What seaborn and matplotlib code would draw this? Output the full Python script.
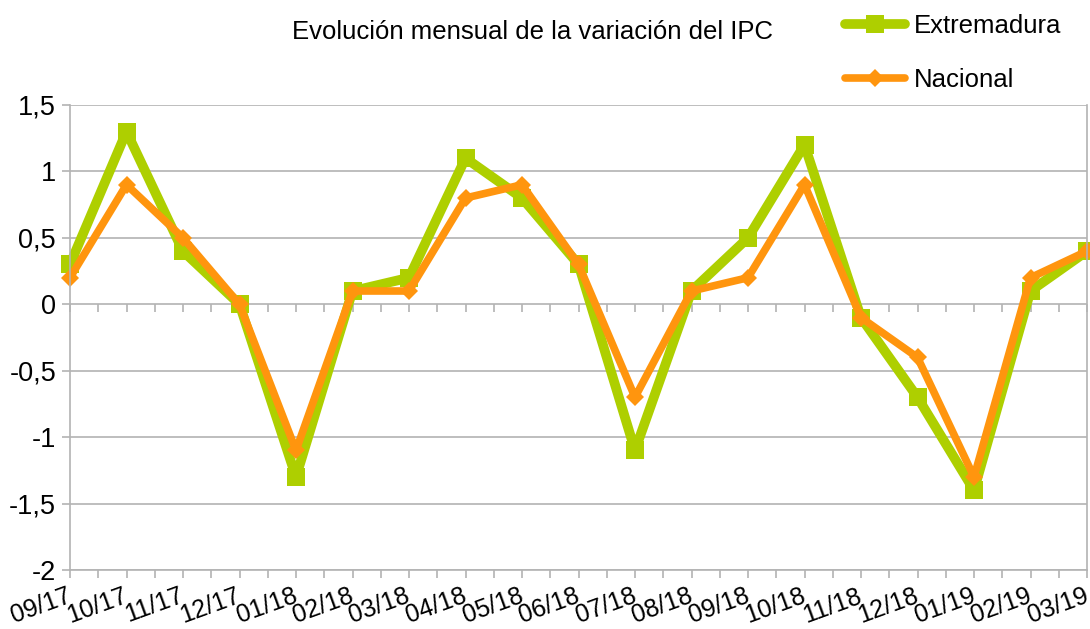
import numpy as np
import pandas as pd
import matplotlib
matplotlib.use("Agg")
import matplotlib.pyplot as plt
import matplotlib.transforms as mtransforms
import seaborn as sns
from matplotlib.ticker import FixedLocator, FuncFormatter

# Datos
meses = ["09/17", "10/17", "11/17", "12/17", "01/18", "02/18", "03/18", "04/18",
         "05/18", "06/18", "07/18", "08/18", "09/18", "10/18", "11/18", "12/18",
         "01/19", "02/19", "03/19"]
extremadura = [0.3, 1.3, 0.4, 0.0, -1.3, 0.1, 0.2, 1.1, 0.8, 0.3, -1.1, 0.1,
               0.5, 1.2, -0.1, -0.7, -1.4, 0.1, 0.4]
nacional = [0.2, 0.9, 0.5, 0.0, -1.1, 0.1, 0.1, 0.8, 0.9, 0.3, -0.7, 0.1,
            0.2, 0.9, -0.1, -0.4, -1.3, 0.2, 0.4]

verde = "#aecf00"
naranja = "#ff950e"
gris = "#b3b3b3"

sns.set_theme(style="white")
plt.rcParams["font.family"] = ["Liberation Sans", "DejaVu Sans"]
plt.rcParams["text.color"] = "black"
plt.rcParams["xtick.labelcolor"] = "black"
plt.rcParams["ytick.labelcolor"] = "black"

df = pd.DataFrame({"pos": np.arange(len(meses)),
                   "Extremadura": extremadura,
                   "Nacional": nacional})

fig = plt.figure(figsize=(10.9, 6.29), dpi=100)
W, H = 1090, 629
ax = fig.add_axes([70 / W, 1 - 570 / H, (1087 - 70) / W, (570 - 105) / H])

sns.lineplot(data=df, x="pos", y="Extremadura", ax=ax, color=verde,
             linewidth=7, marker="s", markersize=12.5, markeredgewidth=0,
             label="Extremadura", legend=False, clip_on=False)
sns.lineplot(data=df, x="pos", y="Nacional", ax=ax, color=naranja,
             linewidth=5.5, marker="D", markersize=9.5, markeredgewidth=0,
             label="Nacional", legend=False, clip_on=False)

ax.set_xlim(0, len(meses) - 1)
ax.set_ylim(-2, 1.5)
ax.set_xlabel("")
ax.set_ylabel("")

# eje y
ax.yaxis.set_major_locator(FixedLocator(np.arange(-2, 1.51, 0.5)))
ax.yaxis.set_major_formatter(FuncFormatter(lambda v, p: f"{v:g}".replace(".", ",")))
ax.grid(axis="y", color=gris, linewidth=1.2)
ax.grid(axis="x", visible=False)

# eje x
ax.set_xticks(np.arange(len(meses)))
ax.set_xticklabels(meses, rotation=20, ha="right", rotation_mode="anchor")
ax.set_xticks(np.arange(0.5, len(meses) - 1, 1), minor=True)
ax.tick_params(axis="x", which="both", direction="out", length=6, width=1.2,
               color=gris, bottom=True, labelsize=18, pad=4)
ax.tick_params(axis="y", direction="out", length=6, width=1.2, color=gris,
               left=True, labelsize=19.5, pad=4)

# desplazar un poco las etiquetas para que no se corte la ultima
desplaza = mtransforms.ScaledTranslation(-4 / 100, 0, fig.dpi_scale_trans)
for lab in ax.get_xticklabels():
    lab.set_transform(lab.get_transform() + desplaza)

for s in ["left", "right", "bottom"]:
    ax.spines[s].set_color(gris)
    ax.spines[s].set_linewidth(1.2)
ax.spines["top"].set_visible(False)

# linea del cero con marcas
sec = ax.secondary_xaxis(2 / 3.5)
sec.set_xticks(np.arange(0, len(meses), 0.5))
sec.tick_params(axis="x", direction="out", length=6, width=1.2, color=gris,
                labelbottom=False, labeltop=False, top=False, bottom=True)
sec.spines["bottom"].set_color(gris)
sec.spines["bottom"].set_linewidth(1.2)
sec.spines["top"].set_visible(False)

fig.text(532 / W, 1 - 32 / H, "Evolución mensual de la variación del IPC",
         ha="center", va="center", fontsize=18.5, color="black")

handles, labels = ax.get_legend_handles_labels()
fig.legend(handles, labels, loc="upper left", bbox_to_anchor=(845 / W, 1 - 14 / H),
           frameon=False, fontsize=18.5, handlelength=2.35, handletextpad=0.35,
           labelspacing=1.15, borderpad=0, borderaxespad=0)

fig.savefig("out.png", dpi=100)
